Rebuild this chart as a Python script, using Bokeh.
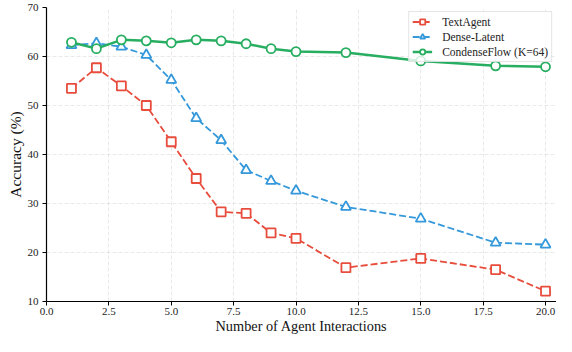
from bokeh.plotting import figure
from bokeh.models import Range1d, FixedTicker, Legend
from bokeh.embed import file_html
from bokeh.resources import INLINE

interactions = [1, 2, 3, 4, 5, 6, 7, 8, 9, 10, 12, 15, 18, 20]
text_agent = [53.5, 57.7, 54.0, 50.0, 42.6, 35.1, 28.3, 28.0, 24.0, 22.9, 16.9, 18.8, 16.5, 12.1]
dense_latent = [62.3, 62.7, 62.0, 60.3, 55.2, 47.4, 42.9, 36.8, 34.6, 32.6, 29.3, 26.9, 22.0, 21.6]
condense_flow = [62.9, 61.6, 63.4, 63.2, 62.8, 63.4, 63.2, 62.6, 61.6, 61.0, 60.8, 59.1, 58.1, 57.9]

x_ticks = [0, 2.5, 5, 7.5, 10, 12.5, 15, 17.5, 20]
x_tick_labels = ["0.0", "2.5", "5.0", "7.5", "10.0", "12.5", "15.0", "17.5", "20.0"]
y_ticks = [10, 20, 30, 40, 50, 60, 70]

FONT = "Liberation Serif"
RED = "#e74c3c"
BLUE = "#3498db"
GREEN = "#27ae60"

p = figure(width=556, height=336, output_backend="svg", toolbar_location=None,
           x_range=Range1d(0, 20.44), y_range=Range1d(10, 70),
           min_border_left=46, min_border_right=0, min_border_top=7, min_border_bottom=33)
p.outline_line_color = None
p.background_fill_color = "white"
p.border_fill_color = "white"

# grid
for g in (p.xgrid, p.ygrid):
    g.grid_line_color = "#b0b0b0"
    g.grid_line_alpha = 0.35
    g.grid_line_dash = "4 2"
    g.grid_line_width = 0.8

p.xaxis.ticker = FixedTicker(ticks=x_ticks)
p.xaxis.major_label_overrides = {t: l for t, l in zip(x_ticks, x_tick_labels)}
p.yaxis.ticker = FixedTicker(ticks=y_ticks)

for ax in (p.xaxis, p.yaxis):
    ax.axis_line_color = "black"
    ax.axis_line_width = 1.2
    ax.major_tick_line_color = "black"
    ax.major_tick_line_width = 1.0
    ax.major_tick_out = 4
    ax.major_tick_in = 0
    ax.minor_tick_line_color = None
    ax.major_label_text_font = FONT
    ax.major_label_text_font_size = "11px"
    ax.major_label_text_color = "#222222"
    ax.axis_label_text_font = FONT
    ax.axis_label_text_font_style = "normal"
    ax.axis_label_text_color = "#111111"

p.xaxis.axis_label = "Number of Agent Interactions"
p.yaxis.axis_label = "Accuracy (%)"
p.xaxis.axis_label_text_font_size = "14.3px"
p.yaxis.axis_label_text_font_size = "15.5px"
p.xaxis.major_label_standoff = 2
p.yaxis.major_label_standoff = 4
p.xaxis.axis_label_standoff = 0
p.yaxis.axis_label_standoff = 1

# series
r1l = p.line(interactions, text_agent, color=RED, line_width=1.8, line_dash="7 3")
r1s = p.scatter(interactions, text_agent, marker="square", size=9, line_color=RED,
                fill_color="white", line_width=1.8)
r2l = p.line(interactions, dense_latent, color=BLUE, line_width=1.8, line_dash="7 3")
r2s = p.scatter(interactions, dense_latent, marker="triangle", size=10, line_color=BLUE,
                fill_color="white", line_width=1.8)
r3l = p.line(interactions, condense_flow, color=GREEN, line_width=2.5)
r3s = p.scatter(interactions, condense_flow, marker="circle", size=9, line_color=GREEN,
                fill_color="white", line_width=1.8)

legend = Legend(items=[("TextAgent", [r1l, r1s]),
                       ("Dense-Latent", [r2l, r2s]),
                       ("CondenseFlow (K=64)", [r3l, r3s])],
                location="top_right")
legend.label_text_font = FONT
legend.label_text_font_size = "11.5px"
legend.label_text_color = "#222222"
legend.glyph_width = 20
legend.glyph_height = 13
legend.label_height = 13
legend.label_standoff = 10
legend.spacing = 2
legend.padding = 3
legend.margin = 4
legend.border_line_color = "#cccccc"
legend.border_line_width = 1
legend.background_fill_color = "white"
legend.background_fill_alpha = 0.8
p.add_layout(legend)

open("out.html", "w").write(file_html(p, INLINE))
